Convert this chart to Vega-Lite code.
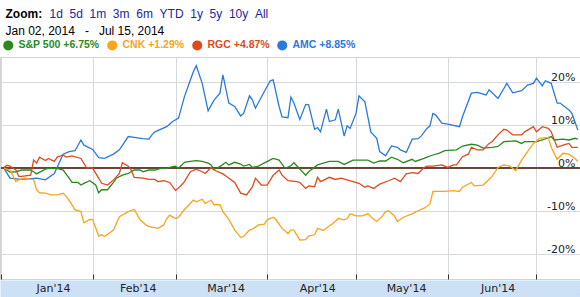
{
  "$schema": "https://vega.github.io/schema/vega-lite/v6.json",
  "width": 580,
  "height": 222,
  "autosize": {"type": "none"},
  "padding": {"left": 0, "right": 0, "top": 57, "bottom": 18},
  "background": "white",
  "config": {"font": "Liberation Sans", "view": {"stroke": "#d4d4d4", "strokeWidth": 1}},
  "data": {"values": [
    {"d":"2014-01-02","s":"AMC","v":0},{"d":"2014-01-04","s":"AMC","v":-2.3},{"d":"2014-01-08","s":"AMC","v":-2.6},{"d":"2014-01-13","s":"AMC","v":-2.3},{"d":"2014-01-16","s":"AMC","v":-2.7},{"d":"2014-01-19","s":"AMC","v":-1.2},{"d":"2014-01-22","s":"AMC","v":3.3},{"d":"2014-01-24","s":"AMC","v":3.9},{"d":"2014-01-26","s":"AMC","v":4.1},{"d":"2014-01-28","s":"AMC","v":6.6},{"d":"2014-01-29","s":"AMC","v":5.4},{"d":"2014-02-01","s":"AMC","v":4.4},{"d":"2014-02-03","s":"AMC","v":2.5},{"d":"2014-02-05","s":"AMC","v":2.3},{"d":"2014-02-08","s":"AMC","v":3.3},{"d":"2014-02-10","s":"AMC","v":4.3},{"d":"2014-02-13","s":"AMC","v":7.4},{"d":"2014-02-15","s":"AMC","v":7.2},{"d":"2014-02-18","s":"AMC","v":6.9},{"d":"2014-02-20","s":"AMC","v":6.8},{"d":"2014-02-21","s":"AMC","v":7.8},{"d":"2014-02-22","s":"AMC","v":8.5},{"d":"2014-02-26","s":"AMC","v":9.7},{"d":"2014-02-28","s":"AMC","v":10.9},{"d":"2014-03-02","s":"AMC","v":11.7},{"d":"2014-03-04","s":"AMC","v":16.7},{"d":"2014-03-06","s":"AMC","v":20.6},{"d":"2014-03-07","s":"AMC","v":22.5},{"d":"2014-03-08","s":"AMC","v":23.9},{"d":"2014-03-10","s":"AMC","v":19.8},{"d":"2014-03-12","s":"AMC","v":13.4},{"d":"2014-03-14","s":"AMC","v":15.9},{"d":"2014-03-16","s":"AMC","v":17.5},{"d":"2014-03-17","s":"AMC","v":21.8},{"d":"2014-03-19","s":"AMC","v":15.2},{"d":"2014-03-21","s":"AMC","v":14.4},{"d":"2014-03-23","s":"AMC","v":12.2},{"d":"2014-03-24","s":"AMC","v":12.8},{"d":"2014-03-26","s":"AMC","v":16.9},{"d":"2014-03-27","s":"AMC","v":15.9},{"d":"2014-03-28","s":"AMC","v":14},{"d":"2014-03-31","s":"AMC","v":17.9},{"d":"2014-04-02","s":"AMC","v":20.4},{"d":"2014-04-03","s":"AMC","v":20.6},{"d":"2014-04-05","s":"AMC","v":14.4},{"d":"2014-04-06","s":"AMC","v":12},{"d":"2014-04-08","s":"AMC","v":11.8},{"d":"2014-04-09","s":"AMC","v":16.6},{"d":"2014-04-10","s":"AMC","v":15.2},{"d":"2014-04-12","s":"AMC","v":11.4},{"d":"2014-04-14","s":"AMC","v":14.9},{"d":"2014-04-15","s":"AMC","v":14.8},{"d":"2014-04-17","s":"AMC","v":9.1},{"d":"2014-04-18","s":"AMC","v":9.5},{"d":"2014-04-19","s":"AMC","v":8.5},{"d":"2014-04-21","s":"AMC","v":13.8},{"d":"2014-04-22","s":"AMC","v":10.9},{"d":"2014-04-24","s":"AMC","v":11.3},{"d":"2014-04-25","s":"AMC","v":13.8},{"d":"2014-04-27","s":"AMC","v":7.5},{"d":"2014-04-28","s":"AMC","v":9.9},{"d":"2014-04-29","s":"AMC","v":9.3},{"d":"2014-05-01","s":"AMC","v":12.8},{"d":"2014-05-02","s":"AMC","v":16.9},{"d":"2014-05-04","s":"AMC","v":15.5},{"d":"2014-05-06","s":"AMC","v":8.5},{"d":"2014-05-08","s":"AMC","v":7},{"d":"2014-05-09","s":"AMC","v":3.9},{"d":"2014-05-11","s":"AMC","v":2.9},{"d":"2014-05-13","s":"AMC","v":5.2},{"d":"2014-05-15","s":"AMC","v":4.9},{"d":"2014-05-16","s":"AMC","v":4.3},{"d":"2014-05-18","s":"AMC","v":3.7},{"d":"2014-05-20","s":"AMC","v":6.8},{"d":"2014-05-22","s":"AMC","v":6.9},{"d":"2014-05-23","s":"AMC","v":7.5},{"d":"2014-05-25","s":"AMC","v":9.3},{"d":"2014-05-26","s":"AMC","v":9.9},{"d":"2014-05-27","s":"AMC","v":12.8},{"d":"2014-05-28","s":"AMC","v":12.4},{"d":"2014-05-30","s":"AMC","v":10.5},{"d":"2014-06-01","s":"AMC","v":10.3},{"d":"2014-06-05","s":"AMC","v":9.7},{"d":"2014-06-06","s":"AMC","v":12},{"d":"2014-06-09","s":"AMC","v":17.5},{"d":"2014-06-11","s":"AMC","v":17.7},{"d":"2014-06-14","s":"AMC","v":17.1},{"d":"2014-06-15","s":"AMC","v":18.3},{"d":"2014-06-18","s":"AMC","v":16.3},{"d":"2014-06-20","s":"AMC","v":18.6},{"d":"2014-06-21","s":"AMC","v":19.8},{"d":"2014-06-23","s":"AMC","v":17.6},{"d":"2014-06-26","s":"AMC","v":18.1},{"d":"2014-06-28","s":"AMC","v":19.4},{"d":"2014-06-30","s":"AMC","v":19.8},{"d":"2014-07-01","s":"AMC","v":21},{"d":"2014-07-03","s":"AMC","v":19.2},{"d":"2014-07-04","s":"AMC","v":20.4},{"d":"2014-07-06","s":"AMC","v":19.8},{"d":"2014-07-08","s":"AMC","v":15.2},{"d":"2014-07-09","s":"AMC","v":15.2},{"d":"2014-07-12","s":"AMC","v":13.6},{"d":"2014-07-13","s":"AMC","v":12.8},{"d":"2014-07-15","s":"AMC","v":8.9},

    {"d":"2014-01-02","s":"S&P 500","v":0},{"d":"2014-01-04","s":"S&P 500","v":-0.9},{"d":"2014-01-06","s":"S&P 500","v":-0.8},{"d":"2014-01-08","s":"S&P 500","v":-0.4},{"d":"2014-01-11","s":"S&P 500","v":-0.4},{"d":"2014-01-12","s":"S&P 500","v":-0.8},{"d":"2014-01-13","s":"S&P 500","v":-1.3},{"d":"2014-01-16","s":"S&P 500","v":-0.2},{"d":"2014-01-17","s":"S&P 500","v":0},{"d":"2014-01-20","s":"S&P 500","v":0},{"d":"2014-01-22","s":"S&P 500","v":-0.4},{"d":"2014-01-24","s":"S&P 500","v":-2.3},{"d":"2014-01-25","s":"S&P 500","v":-3.3},{"d":"2014-01-27","s":"S&P 500","v":-3.3},{"d":"2014-01-28","s":"S&P 500","v":-3.9},{"d":"2014-01-29","s":"S&P 500","v":-3.5},{"d":"2014-01-31","s":"S&P 500","v":-2.9},{"d":"2014-02-02","s":"S&P 500","v":-3.9},{"d":"2014-02-03","s":"S&P 500","v":-5.7},{"d":"2014-02-04","s":"S&P 500","v":-5},{"d":"2014-02-06","s":"S&P 500","v":-5},{"d":"2014-02-08","s":"S&P 500","v":-3.3},{"d":"2014-02-09","s":"S&P 500","v":-2.3},{"d":"2014-02-11","s":"S&P 500","v":-1.6},{"d":"2014-02-13","s":"S&P 500","v":-1.2},{"d":"2014-02-15","s":"S&P 500","v":-0.4},{"d":"2014-02-17","s":"S&P 500","v":-0.4},{"d":"2014-02-18","s":"S&P 500","v":-0.8},{"d":"2014-02-20","s":"S&P 500","v":-0.4},{"d":"2014-02-22","s":"S&P 500","v":-0.4},{"d":"2014-02-24","s":"S&P 500","v":0},{"d":"2014-02-26","s":"S&P 500","v":0},{"d":"2014-02-28","s":"S&P 500","v":0.4},{"d":"2014-03-01","s":"S&P 500","v":0.5},{"d":"2014-03-02","s":"S&P 500","v":0},{"d":"2014-03-04","s":"S&P 500","v":1.4},{"d":"2014-03-06","s":"S&P 500","v":1.6},{"d":"2014-03-08","s":"S&P 500","v":1.8},{"d":"2014-03-10","s":"S&P 500","v":1.6},{"d":"2014-03-12","s":"S&P 500","v":1.2},{"d":"2014-03-13","s":"S&P 500","v":0.8},{"d":"2014-03-14","s":"S&P 500","v":-0.2},{"d":"2014-03-16","s":"S&P 500","v":0.4},{"d":"2014-03-18","s":"S&P 500","v":1.4},{"d":"2014-03-19","s":"S&P 500","v":0.8},{"d":"2014-03-21","s":"S&P 500","v":1.4},{"d":"2014-03-23","s":"S&P 500","v":1},{"d":"2014-03-24","s":"S&P 500","v":0.5},{"d":"2014-03-26","s":"S&P 500","v":0.9},{"d":"2014-03-27","s":"S&P 500","v":0.2},{"d":"2014-03-29","s":"S&P 500","v":0.5},{"d":"2014-04-01","s":"S&P 500","v":1.6},{"d":"2014-04-03","s":"S&P 500","v":2.3},{"d":"2014-04-05","s":"S&P 500","v":1.9},{"d":"2014-04-07","s":"S&P 500","v":0},{"d":"2014-04-09","s":"S&P 500","v":0.6},{"d":"2014-04-10","s":"S&P 500","v":1.3},{"d":"2014-04-14","s":"S&P 500","v":-1.6},{"d":"2014-04-15","s":"S&P 500","v":-0.8},{"d":"2014-04-18","s":"S&P 500","v":0.8},{"d":"2014-04-20","s":"S&P 500","v":1.2},{"d":"2014-04-22","s":"S&P 500","v":1.6},{"d":"2014-04-25","s":"S&P 500","v":1.6},{"d":"2014-04-27","s":"S&P 500","v":0.9},{"d":"2014-04-30","s":"S&P 500","v":1.9},{"d":"2014-05-05","s":"S&P 500","v":1.9},{"d":"2014-05-07","s":"S&P 500","v":1.2},{"d":"2014-05-09","s":"S&P 500","v":1.7},{"d":"2014-05-11","s":"S&P 500","v":1.7},{"d":"2014-05-13","s":"S&P 500","v":2.6},{"d":"2014-05-15","s":"S&P 500","v":2.1},{"d":"2014-05-17","s":"S&P 500","v":1.3},{"d":"2014-05-20","s":"S&P 500","v":2.1},{"d":"2014-05-21","s":"S&P 500","v":1.6},{"d":"2014-05-24","s":"S&P 500","v":2.3},{"d":"2014-05-25","s":"S&P 500","v":2.6},{"d":"2014-05-27","s":"S&P 500","v":3.1},{"d":"2014-05-29","s":"S&P 500","v":3.5},{"d":"2014-05-31","s":"S&P 500","v":4.1},{"d":"2014-06-04","s":"S&P 500","v":4.3},{"d":"2014-06-06","s":"S&P 500","v":5.2},{"d":"2014-06-09","s":"S&P 500","v":5.6},{"d":"2014-06-11","s":"S&P 500","v":5.4},{"d":"2014-06-13","s":"S&P 500","v":4.7},{"d":"2014-06-16","s":"S&P 500","v":4.9},{"d":"2014-06-18","s":"S&P 500","v":5.1},{"d":"2014-06-20","s":"S&P 500","v":6.2},{"d":"2014-06-24","s":"S&P 500","v":6.4},{"d":"2014-06-26","s":"S&P 500","v":5.8},{"d":"2014-06-27","s":"S&P 500","v":6.2},{"d":"2014-07-01","s":"S&P 500","v":6.2},{"d":"2014-07-03","s":"S&P 500","v":6.6},{"d":"2014-07-06","s":"S&P 500","v":7.4},{"d":"2014-07-07","s":"S&P 500","v":6.6},{"d":"2014-07-10","s":"S&P 500","v":6.8},{"d":"2014-07-12","s":"S&P 500","v":6.6},{"d":"2014-07-14","s":"S&P 500","v":7},{"d":"2014-07-15","s":"S&P 500","v":6.8},

    {"d":"2014-01-02","s":"RGC","v":0.2},{"d":"2014-01-03","s":"RGC","v":0.7},{"d":"2014-01-04","s":"RGC","v":0.5},{"d":"2014-01-06","s":"RGC","v":-0.4},{"d":"2014-01-07","s":"RGC","v":-1.9},{"d":"2014-01-08","s":"RGC","v":-1.9},{"d":"2014-01-11","s":"RGC","v":-1.6},{"d":"2014-01-12","s":"RGC","v":1.9},{"d":"2014-01-13","s":"RGC","v":1.2},{"d":"2014-01-14","s":"RGC","v":2.6},{"d":"2014-01-16","s":"RGC","v":1.8},{"d":"2014-01-17","s":"RGC","v":2.3},{"d":"2014-01-19","s":"RGC","v":1.6},{"d":"2014-01-20","s":"RGC","v":2.6},{"d":"2014-01-22","s":"RGC","v":3.1},{"d":"2014-01-23","s":"RGC","v":2.6},{"d":"2014-01-25","s":"RGC","v":2.9},{"d":"2014-01-28","s":"RGC","v":2.3},{"d":"2014-01-30","s":"RGC","v":0},{"d":"2014-01-31","s":"RGC","v":0.2},{"d":"2014-02-01","s":"RGC","v":0},{"d":"2014-02-03","s":"RGC","v":-2.3},{"d":"2014-02-04","s":"RGC","v":-3.5},{"d":"2014-02-06","s":"RGC","v":-3.9},{"d":"2014-02-08","s":"RGC","v":-2.7},{"d":"2014-02-10","s":"RGC","v":-1.2},{"d":"2014-02-11","s":"RGC","v":1.3},{"d":"2014-02-13","s":"RGC","v":0.5},{"d":"2014-02-14","s":"RGC","v":-0.4},{"d":"2014-02-15","s":"RGC","v":-2.1},{"d":"2014-02-18","s":"RGC","v":-2.3},{"d":"2014-02-20","s":"RGC","v":-2.6},{"d":"2014-02-22","s":"RGC","v":-2.6},{"d":"2014-02-23","s":"RGC","v":-3.1},{"d":"2014-02-25","s":"RGC","v":-2.9},{"d":"2014-02-27","s":"RGC","v":-3.3},{"d":"2014-03-01","s":"RGC","v":-5.2},{"d":"2014-03-03","s":"RGC","v":-3.9},{"d":"2014-03-04","s":"RGC","v":-3.1},{"d":"2014-03-06","s":"RGC","v":-0.8},{"d":"2014-03-08","s":"RGC","v":-0.2},{"d":"2014-03-10","s":"RGC","v":-0.8},{"d":"2014-03-11","s":"RGC","v":-1.2},{"d":"2014-03-13","s":"RGC","v":0.2},{"d":"2014-03-14","s":"RGC","v":-0.4},{"d":"2014-03-17","s":"RGC","v":-1.3},{"d":"2014-03-18","s":"RGC","v":-1.8},{"d":"2014-03-21","s":"RGC","v":-3.3},{"d":"2014-03-23","s":"RGC","v":-5.8},{"d":"2014-03-25","s":"RGC","v":-6.2},{"d":"2014-03-27","s":"RGC","v":-4.3},{"d":"2014-03-28","s":"RGC","v":-2.3},{"d":"2014-03-30","s":"RGC","v":-3.9},{"d":"2014-04-01","s":"RGC","v":-3.9},{"d":"2014-04-03","s":"RGC","v":-1.6},{"d":"2014-04-05","s":"RGC","v":-0.4},{"d":"2014-04-06","s":"RGC","v":-1.6},{"d":"2014-04-08","s":"RGC","v":-2.9},{"d":"2014-04-11","s":"RGC","v":-3.1},{"d":"2014-04-12","s":"RGC","v":-3.3},{"d":"2014-04-14","s":"RGC","v":-4.7},{"d":"2014-04-15","s":"RGC","v":-4.1},{"d":"2014-04-17","s":"RGC","v":-4.3},{"d":"2014-04-18","s":"RGC","v":-2.1},{"d":"2014-04-19","s":"RGC","v":-3.1},{"d":"2014-04-22","s":"RGC","v":-2.1},{"d":"2014-04-24","s":"RGC","v":-2.6},{"d":"2014-04-26","s":"RGC","v":-2.3},{"d":"2014-04-28","s":"RGC","v":-2.7},{"d":"2014-05-02","s":"RGC","v":-3.5},{"d":"2014-05-04","s":"RGC","v":-4.4},{"d":"2014-05-05","s":"RGC","v":-4.1},{"d":"2014-05-07","s":"RGC","v":-4.7},{"d":"2014-05-09","s":"RGC","v":-3.7},{"d":"2014-05-12","s":"RGC","v":-2.9},{"d":"2014-05-14","s":"RGC","v":-2.3},{"d":"2014-05-16","s":"RGC","v":-3.1},{"d":"2014-05-18","s":"RGC","v":-1.3},{"d":"2014-05-20","s":"RGC","v":-1},{"d":"2014-05-22","s":"RGC","v":-1.2},{"d":"2014-05-24","s":"RGC","v":0.2},{"d":"2014-05-25","s":"RGC","v":0.5},{"d":"2014-05-27","s":"RGC","v":0.5},{"d":"2014-05-30","s":"RGC","v":0.8},{"d":"2014-06-01","s":"RGC","v":0.2},{"d":"2014-06-03","s":"RGC","v":0.8},{"d":"2014-06-04","s":"RGC","v":0.8},{"d":"2014-06-06","s":"RGC","v":2.7},{"d":"2014-06-08","s":"RGC","v":3.3},{"d":"2014-06-09","s":"RGC","v":4.9},{"d":"2014-06-11","s":"RGC","v":4.3},{"d":"2014-06-13","s":"RGC","v":4.3},{"d":"2014-06-15","s":"RGC","v":5.8},{"d":"2014-06-16","s":"RGC","v":6.2},{"d":"2014-06-18","s":"RGC","v":7.8},{"d":"2014-06-20","s":"RGC","v":9.1},{"d":"2014-06-21","s":"RGC","v":8.9},{"d":"2014-06-23","s":"RGC","v":7.8},{"d":"2014-06-26","s":"RGC","v":7.8},{"d":"2014-06-27","s":"RGC","v":8.5},{"d":"2014-06-30","s":"RGC","v":9.7},{"d":"2014-07-01","s":"RGC","v":8.5},{"d":"2014-07-03","s":"RGC","v":9.7},{"d":"2014-07-05","s":"RGC","v":9.3},{"d":"2014-07-06","s":"RGC","v":8.5},{"d":"2014-07-08","s":"RGC","v":4.9},{"d":"2014-07-10","s":"RGC","v":5.4},{"d":"2014-07-12","s":"RGC","v":5.8},{"d":"2014-07-13","s":"RGC","v":4.9},{"d":"2014-07-15","s":"RGC","v":4.9},

    {"d":"2014-01-02","s":"CNK","v":0},{"d":"2014-01-04","s":"CNK","v":-0.4},{"d":"2014-01-06","s":"CNK","v":-3.1},{"d":"2014-01-07","s":"CNK","v":-2.7},{"d":"2014-01-09","s":"CNK","v":-2.3},{"d":"2014-01-11","s":"CNK","v":-2.6},{"d":"2014-01-12","s":"CNK","v":-2.6},{"d":"2014-01-13","s":"CNK","v":-5},{"d":"2014-01-14","s":"CNK","v":-5.7},{"d":"2014-01-16","s":"CNK","v":-5.8},{"d":"2014-01-18","s":"CNK","v":-6.2},{"d":"2014-01-20","s":"CNK","v":-6.2},{"d":"2014-01-22","s":"CNK","v":-5.8},{"d":"2014-01-24","s":"CNK","v":-7.4},{"d":"2014-01-26","s":"CNK","v":-9.7},{"d":"2014-01-28","s":"CNK","v":-10.1},{"d":"2014-01-29","s":"CNK","v":-12.7},{"d":"2014-01-31","s":"CNK","v":-11.9},{"d":"2014-02-01","s":"CNK","v":-12},{"d":"2014-02-03","s":"CNK","v":-15.8},{"d":"2014-02-04","s":"CNK","v":-15.5},{"d":"2014-02-05","s":"CNK","v":-15.9},{"d":"2014-02-08","s":"CNK","v":-14.4},{"d":"2014-02-10","s":"CNK","v":-11.3},{"d":"2014-02-13","s":"CNK","v":-10.1},{"d":"2014-02-15","s":"CNK","v":-9.6},{"d":"2014-02-17","s":"CNK","v":-12},{"d":"2014-02-19","s":"CNK","v":-13.2},{"d":"2014-02-20","s":"CNK","v":-13.6},{"d":"2014-02-23","s":"CNK","v":-14},{"d":"2014-02-25","s":"CNK","v":-13.2},{"d":"2014-02-26","s":"CNK","v":-11.7},{"d":"2014-02-27","s":"CNK","v":-10.9},{"d":"2014-03-01","s":"CNK","v":-11.7},{"d":"2014-03-02","s":"CNK","v":-11.4},{"d":"2014-03-04","s":"CNK","v":-9.6},{"d":"2014-03-05","s":"CNK","v":-8.9},{"d":"2014-03-07","s":"CNK","v":-7.4},{"d":"2014-03-08","s":"CNK","v":-7.8},{"d":"2014-03-10","s":"CNK","v":-7.2},{"d":"2014-03-11","s":"CNK","v":-8.2},{"d":"2014-03-13","s":"CNK","v":-7.4},{"d":"2014-03-14","s":"CNK","v":-8.5},{"d":"2014-03-16","s":"CNK","v":-8.5},{"d":"2014-03-17","s":"CNK","v":-10.1},{"d":"2014-03-19","s":"CNK","v":-11.9},{"d":"2014-03-21","s":"CNK","v":-14.4},{"d":"2014-03-23","s":"CNK","v":-16.1},{"d":"2014-03-24","s":"CNK","v":-15.9},{"d":"2014-03-26","s":"CNK","v":-14.4},{"d":"2014-03-27","s":"CNK","v":-14.2},{"d":"2014-03-29","s":"CNK","v":-13.2},{"d":"2014-03-31","s":"CNK","v":-13},{"d":"2014-04-01","s":"CNK","v":-12},{"d":"2014-04-03","s":"CNK","v":-11.4},{"d":"2014-04-04","s":"CNK","v":-12},{"d":"2014-04-06","s":"CNK","v":-14},{"d":"2014-04-08","s":"CNK","v":-15.2},{"d":"2014-04-09","s":"CNK","v":-14.4},{"d":"2014-04-10","s":"CNK","v":-14.4},{"d":"2014-04-12","s":"CNK","v":-16.7},{"d":"2014-04-14","s":"CNK","v":-16.6},{"d":"2014-04-15","s":"CNK","v":-15.8},{"d":"2014-04-17","s":"CNK","v":-15.5},{"d":"2014-04-18","s":"CNK","v":-14},{"d":"2014-04-20","s":"CNK","v":-14.5},{"d":"2014-04-22","s":"CNK","v":-13.4},{"d":"2014-04-23","s":"CNK","v":-13},{"d":"2014-04-25","s":"CNK","v":-11.7},{"d":"2014-04-27","s":"CNK","v":-12},{"d":"2014-04-28","s":"CNK","v":-11.7},{"d":"2014-04-29","s":"CNK","v":-10.6},{"d":"2014-05-01","s":"CNK","v":-11.1},{"d":"2014-05-03","s":"CNK","v":-11.1},{"d":"2014-05-05","s":"CNK","v":-10.6},{"d":"2014-05-07","s":"CNK","v":-11.9},{"d":"2014-05-08","s":"CNK","v":-12.4},{"d":"2014-05-10","s":"CNK","v":-11.1},{"d":"2014-05-11","s":"CNK","v":-10.1},{"d":"2014-05-12","s":"CNK","v":-9.9},{"d":"2014-05-14","s":"CNK","v":-11.1},{"d":"2014-05-15","s":"CNK","v":-12.4},{"d":"2014-05-17","s":"CNK","v":-11.4},{"d":"2014-05-20","s":"CNK","v":-10.6},{"d":"2014-05-22","s":"CNK","v":-9.9},{"d":"2014-05-24","s":"CNK","v":-9.3},{"d":"2014-05-26","s":"CNK","v":-8.3},{"d":"2014-05-27","s":"CNK","v":-5.4},{"d":"2014-05-30","s":"CNK","v":-5.4},{"d":"2014-05-31","s":"CNK","v":-5.4},{"d":"2014-06-03","s":"CNK","v":-5.2},{"d":"2014-06-05","s":"CNK","v":-5.4},{"d":"2014-06-06","s":"CNK","v":-4.4},{"d":"2014-06-09","s":"CNK","v":-3.3},{"d":"2014-06-10","s":"CNK","v":-4.1},{"d":"2014-06-13","s":"CNK","v":-3.9},{"d":"2014-06-16","s":"CNK","v":-1.9},{"d":"2014-06-18","s":"CNK","v":0.2},{"d":"2014-06-20","s":"CNK","v":0.8},{"d":"2014-06-22","s":"CNK","v":0.5},{"d":"2014-06-24","s":"CNK","v":-0.5},{"d":"2014-06-26","s":"CNK","v":1.9},{"d":"2014-06-28","s":"CNK","v":3.9},{"d":"2014-06-30","s":"CNK","v":5.8},{"d":"2014-07-02","s":"CNK","v":7},{"d":"2014-07-05","s":"CNK","v":7.2},{"d":"2014-07-06","s":"CNK","v":4.9},{"d":"2014-07-08","s":"CNK","v":2.1},{"d":"2014-07-10","s":"CNK","v":3.5},{"d":"2014-07-12","s":"CNK","v":3.3},{"d":"2014-07-14","s":"CNK","v":2.3},{"d":"2014-07-15","s":"CNK","v":1.6}
  ]},
  "resolve": {"axis": {"x": "independent", "y": "independent"}},
  "layer": [
    {
      "mark": {"type": "rule", "color": "#6a4538", "strokeWidth": 1.3},
      "encoding": {
        "x": {
          "datum": {"year": 2014, "month": 1, "date": 1, "utc": true},
          "type": "temporal",
          "scale": {"type": "utc", "domain": [{"year": 2013, "month": 12, "date": 31, "hours": 15, "minutes": 20, "utc": true}, {"year": 2014, "month": 7, "date": 15, "hours": 17, "minutes": 30, "utc": true}]},
          "axis": {
            "orient": "bottom", "offset": 9.5, "domain": true, "domainColor": "#cde1f6", "domainWidth": 17,
            "ticks": false, "labels": false, "grid": false,
            "title": "Zoom:", "titleX": 5, "titleY": -275.5, "titleAlign": "left", "titleAnchor": "start", "titleBaseline": "middle",
            "titleFont": "Liberation Sans", "titleFontSize": 12, "titleFontWeight": "bold", "titleColor": "#000000"
          }
        },
        "x2": {"datum": {"year": 2014, "month": 7, "date": 17, "utc": true}},
        "y": {
          "datum": 0, "type": "quantitative",
          "scale": {"domain": [-25.8, 25.94], "nice": false, "zero": false},
          "axis": {
            "orient": "right", "values": [-20, -10, 0, 10, 20], "labelExpr": "datum.value + '%'",
            "domain": false, "ticks": false, "tickSize": 0, "grid": true, "gridColor": "#d6d9df", "gridWidth": 1,
            "labelAlign": "right", "labelPadding": -5, "labelBaseline": "alphabetic", "labelOffset": -2, "labelFlush": false,
            "labelFont": "DejaVu Sans", "labelFontSize": 11, "labelColor": "#222222",
            "title": "Jan 02, 2014\u00a0\u00a0\u00a0-\u00a0\u00a0\u00a0Jul 15, 2014", "titleAngle": 0, "titleX": -575, "titleY": -27, "titleAlign": "left", "titleBaseline": "middle",
            "titleFont": "Liberation Sans", "titleFontSize": 12, "titleFontWeight": "normal", "titleColor": "#000000"
          }
        }
      }
    },
    {
      "mark": {"type": "line", "strokeWidth": 1.3},
      "encoding": {
        "x": {
          "field": "d", "type": "temporal",
          "scale": {"type": "utc", "domain": [{"year": 2013, "month": 12, "date": 31, "hours": 15, "minutes": 20, "utc": true}, {"year": 2014, "month": 7, "date": 15, "hours": 17, "minutes": 30, "utc": true}]},
          "axis": {
            "orient": "bottom",
            "values": [
              {"year": 2014, "month": 1, "date": 1, "utc": true}, {"year": 2014, "month": 2, "date": 1, "utc": true},
              {"year": 2014, "month": 3, "date": 1, "utc": true}, {"year": 2014, "month": 4, "date": 1, "utc": true},
              {"year": 2014, "month": 5, "date": 1, "utc": true}, {"year": 2014, "month": 6, "date": 1, "utc": true},
              {"year": 2014, "month": 7, "date": 1, "utc": true}
            ],
            "labelExpr": "utcFormat(datum.value, \"%b'%y\")",
            "domain": false, "ticks": true, "tickSize": -5, "tickColor": "#333333", "tickWidth": 1,
            "grid": true, "gridColor": "#d6d9df", "gridWidth": 1,
            "labelAlign": "center", "labelBaseline": "middle", "labelPadding": 14.5, "labelFlush": false, "labelOverlap": false,
            "labelOffset": {"condition": [{"test": "utcmonth(datum.value) == 0", "value": 52}, {"test": "utcmonth(datum.value) == 1", "value": 45}, {"test": "utcmonth(datum.value) == 6", "value": 59}], "value": 50},
            "labelFont": "DejaVu Sans", "labelFontSize": 11, "labelColor": "#222222",
            "title": "1d\u00a0\u00a05d\u00a0\u00a01m\u00a0\u00a03m\u00a0\u00a06m\u00a0\u00a0YTD\u00a0\u00a01y\u00a0\u00a05y\u00a0\u00a010y\u00a0\u00a0All", "titleX": 49, "titleY": -266, "titleAlign": "left", "titleAnchor": "start", "titleBaseline": "middle",
            "titleFont": "Liberation Sans", "titleFontSize": 12, "titleFontWeight": "normal", "titleColor": "#2323a6"
          }
        },
        "y": {"field": "v", "type": "quantitative", "scale": {"domain": [-25.8, 25.94], "nice": false, "zero": false}, "axis": null},
        "color": {
          "field": "s", "type": "nominal",
          "scale": {"domain": ["S&P 500", "CNK", "RGC", "AMC"], "range": ["#2a8a1e", "#f8a41c", "#dc4b1e", "#2b79d9"]},
          "legend": {
            "orient": "none", "legendX": 3, "legendY": -17, "direction": "horizontal", "title": null, "padding": 0,
            "symbolType": "circle", "symbolSize": 100, "symbolStrokeWidth": 0, "symbolOpacity": 1,
            "labelFont": "Liberation Sans", "labelFontSize": 10.5, "labelFontWeight": "bold", "labelOffset": 5, "columnPadding": 7, "labelLimit": 200,
            "labelExpr": "datum.label == 'S&P 500' ? 'S&P 500 +6.75%' : datum.label == 'CNK' ? 'CNK +1.29%' : datum.label == 'RGC' ? 'RGC +4.87%' : 'AMC +8.85%'",
            "encode": {
              "symbols": {"update": {"fill": {"scale": "color", "field": "value"}, "stroke": {"value": "transparent"}, "opacity": {"value": 1}}},
              "labels": {"update": {"fill": {"scale": "color", "field": "value"}}}
            }
          }
        }
      }
    }
  ]
}
